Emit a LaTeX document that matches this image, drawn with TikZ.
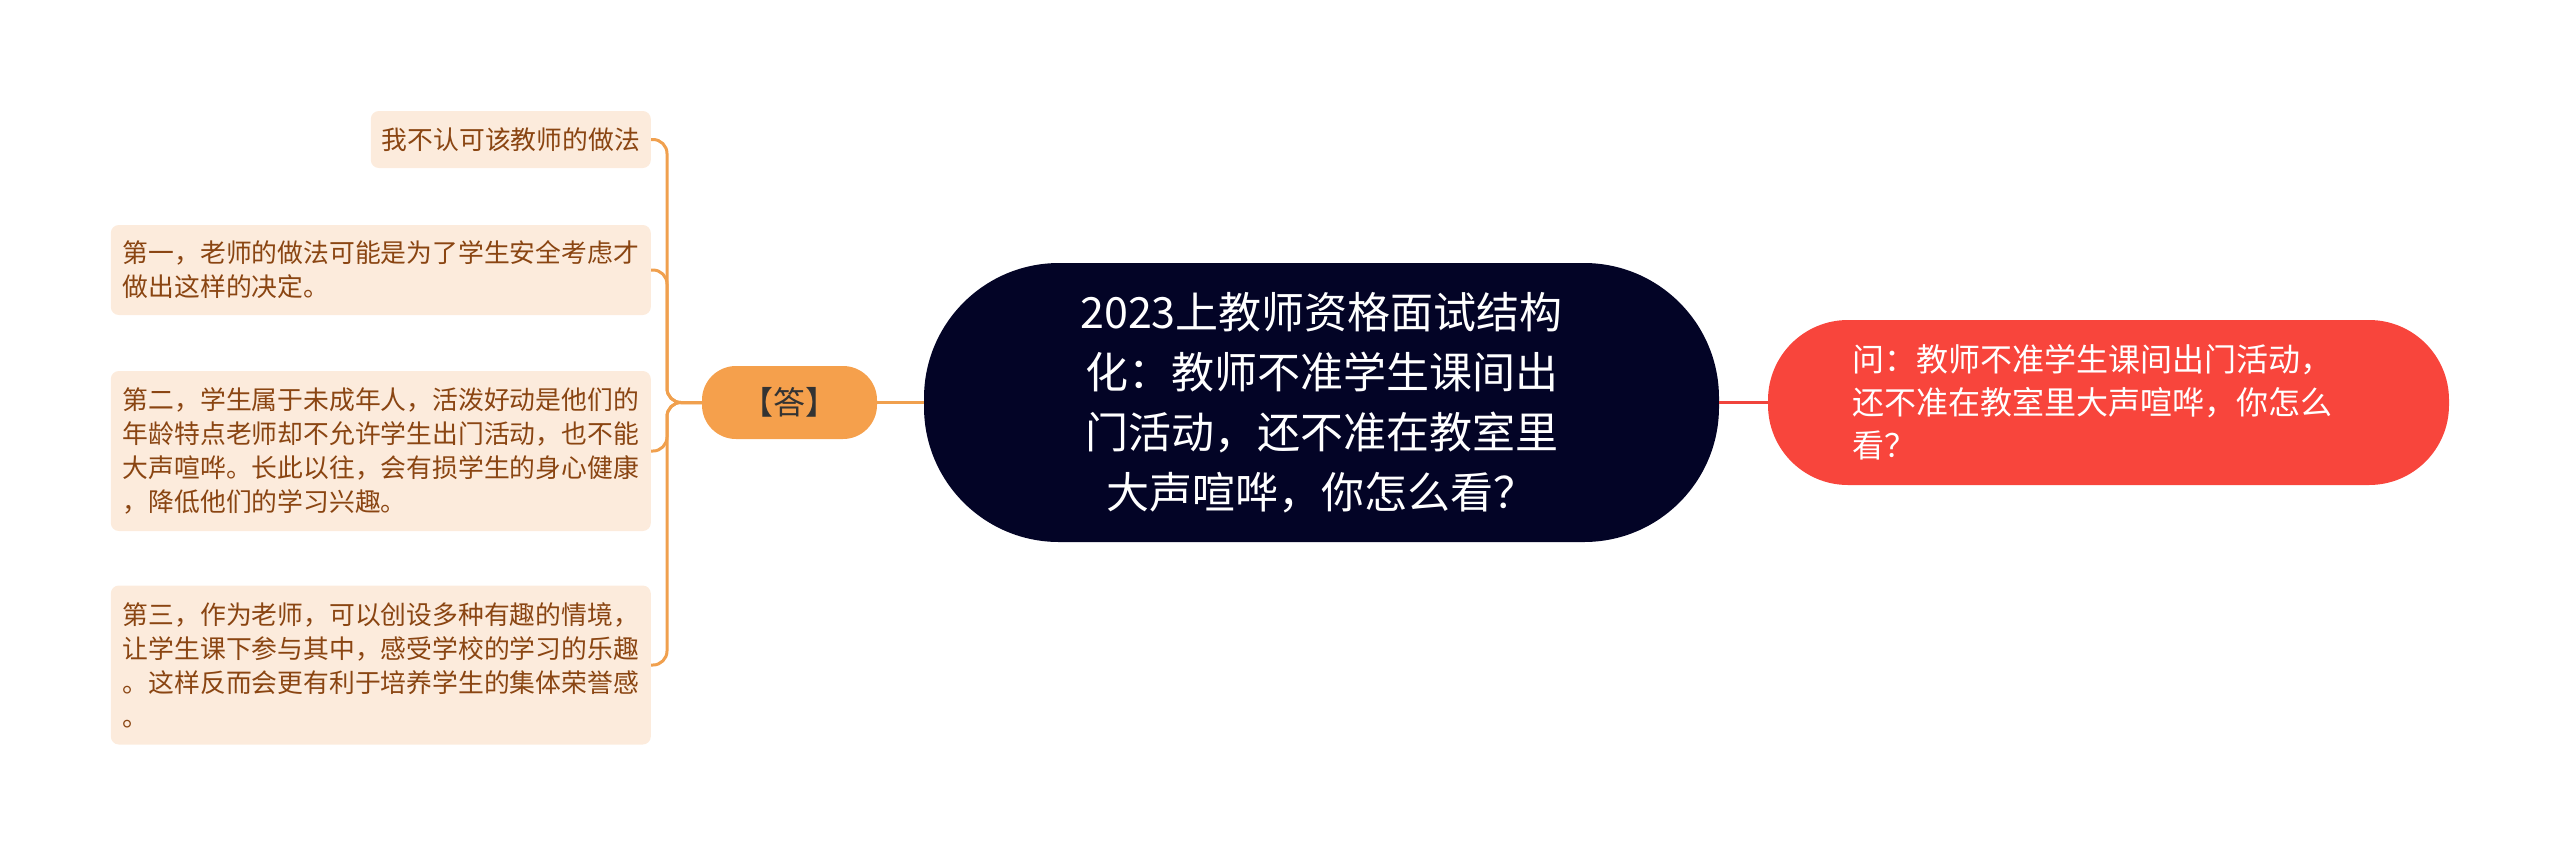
\documentclass[tikz,border=0pt]{standalone}
\usepackage{fontspec}
\setmainfont{Noto Sans CJK SC}
\definecolor{boxfill}{HTML}{FCEBDC}
\definecolor{boxtext}{HTML}{8A4512}
\definecolor{ansfill}{HTML}{F5A04C}
\definecolor{anstext}{HTML}{333333}
\definecolor{centerfill}{HTML}{030426}
\definecolor{redfill}{HTML}{F8453C}
\definecolor{orangeline}{HTML}{F0A04E}
\definecolor{redline}{HTML}{F0443C}
\tikzset{
  leafbox/.style={fill=boxfill, text=boxtext, rounded corners=8pt, inner xsep=11pt, inner ysep=10pt,
    font=\fontsize{25.8}{34}\selectfont, align=left, anchor=east},
  ansbox/.style={fill=ansfill, text=anstext, rounded corners=34pt, minimum width=175pt, minimum height=73pt,
    font=\fontsize{32}{36}\selectfont},
  centerbox/.style={fill=centerfill, text=white, rounded corners=135pt, minimum width=795pt, minimum height=279pt,
    font=\fontsize{43}{60}\selectfont, align=center},
  redbox/.style={fill=redfill, text=white, rounded corners=80pt, minimum width=681pt, minimum height=165pt,
    font=\fontsize{32}{43}\selectfont, align=left},
  conn/.style={draw=orangeline, line width=3pt, rounded corners=14pt},
  redconn/.style={draw=redline, line width=3pt},
}
\begin{document}
\begin{tikzpicture}[x=1pt,y=-1pt]
\useasboundingbox (0,0) rectangle (2560,855);
\node[centerbox] (center) at (1321.5,402.5) {2023上教师资格面试结构\\化：教师不准学生课间出\\门活动，还不准在教室里\\大声喧哗，你怎么看？};
\node[redbox] (red) at (2108.5,402.5) {问：教师不准学生课间出门活动，\\还不准在教室里大声喧哗，你怎么\\看？\hspace*{14em}};
\node[ansbox] (ans) at (789.5,402.5) {【答】};
\node[leafbox, minimum height=57pt] (b1) at (651,139.5) {我不认可该教师的做法};
\node[leafbox, minimum height=90pt, minimum width=540pt] (b2) at (651,270) {第一，老师的做法可能是为了学生安全考虑才\\做出这样的决定。\hspace*{12em}};
\node[leafbox, minimum height=160pt, minimum width=540pt] (b3) at (651,451) {第二，学生属于未成年人，活泼好动是他们的\\年龄特点老师却不允许学生出门活动，也不能\\大声喧哗。长此以往，会有损学生的身心健康\\，降低他们的学习兴趣。};
\node[leafbox, minimum height=159pt, minimum width=540pt] (b4) at (651,665) {第三，作为老师，可以创设多种有趣的情境，\\让学生课下参与其中，感受学校的学习的乐趣\\。这样反而会更有利于培养学生的集体荣誉感\\。};
\coordinate (trunk) at (667,402.5);
\draw[conn] (center.west) -- (ans.east);
\draw[redconn] (center.east) -- (red.west);
\foreach \b in {b1,b2,b3,b4}{
  \draw[conn] (ans.west) -- (trunk) |- (\b.east);
}
\end{tikzpicture}
\end{document}
